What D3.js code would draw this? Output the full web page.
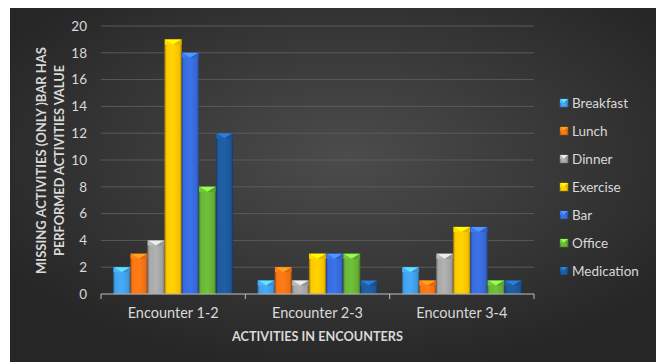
<!DOCTYPE html>
<html><head><meta charset="utf-8">
<script src="https://cdn.jsdelivr.net/npm/d3@7"></script>
<style>html,body{margin:0;padding:0;background:#fff;}svg{display:block;}</style>
</head><body>
<script>
const categories = ["Encounter 1-2", "Encounter 2-3", "Encounter 3-4"];
const seriesNames = ["Breakfast", "Lunch", "Dinner", "Exercise", "Bar", "Office", "Medication"];
const breakfast = [2, 1, 2];
const lunch = [3, 2, 1];
const dinner = [4, 1, 3];
const exercise = [19, 3, 5];
const bar = [18, 3, 5];
const office = [8, 3, 1];
const medication = [12, 1, 1];
const seriesValues = [breakfast, lunch, dinner, exercise, bar, office, medication];
const seriesColors = ["#3f9ae0", "#ee6f14", "#a0a0a0", "#f5bf00", "#3567d2", "#64ad34", "#1d5595"];
const yTicks = [0, 2, 4, 6, 8, 10, 12, 14, 16, 18, 20];
const yTitle1 = "MISSING ACTIVITIES (ONLY )BAR HAS";
const yTitle2 = "PERFORMED ACTIVITIES VALUE";
const xTitle = "ACTIVITIES IN ENCOUNTERS";

const W = 657, H = 362;
const font = "Lato, 'Open Sans', sans-serif";
const svg = d3.select("body").append("svg").attr("width", W).attr("height", H);
const defs = svg.append("defs");

const bg = defs.append("radialGradient").attr("id", "bg").attr("cx", "52%").attr("cy", "42%").attr("r", "62%");
bg.append("stop").attr("offset", "0%").attr("stop-color", "#4c4c4c");
bg.append("stop").attr("offset", "100%").attr("stop-color", "#262626");

svg.append("rect").attr("x", 10).attr("y", 8).attr("width", 646).attr("height", 354).attr("fill", "url(#bg)");

const m = {left: 101, right: 534, top: 26, bottom: 294};
const x0 = d3.scaleBand().domain(categories).range([m.left, m.right]);
const x1 = d3.scaleBand().domain(seriesNames).range([x0.bandwidth() * 0.087, x0.bandwidth() * 0.913]).paddingInner(0.03);
const y = d3.scaleLinear().domain([0, 20]).range([m.bottom, m.top]);

seriesColors.forEach((c, i) => {
  const g = defs.append("linearGradient").attr("id", "g" + i).attr("x1", "0").attr("x2", "1").attr("y1", "0").attr("y2", "0");
  const base = d3.color(c);
  g.append("stop").attr("offset", "0%").attr("stop-color", base.darker(0.6));
  g.append("stop").attr("offset", "12%").attr("stop-color", base.brighter(0.15));
  g.append("stop").attr("offset", "50%").attr("stop-color", base.brighter(0.3));
  g.append("stop").attr("offset", "88%").attr("stop-color", base);
  g.append("stop").attr("offset", "100%").attr("stop-color", base.darker(0.8));
});

svg.append("g").selectAll("line").data(yTicks.filter(d => d > 0)).join("line")
  .attr("x1", m.left).attr("x2", m.right).attr("y1", d => y(d)).attr("y2", d => y(d))
  .attr("stroke", "#5a5a5a").attr("stroke-width", 1);

const yAxis = d3.axisLeft(y).tickValues(yTicks).tickSize(0).tickPadding(14);
const ya = svg.append("g").attr("transform", `translate(${m.left},0)`).call(yAxis);
ya.select(".domain").remove();
ya.selectAll("text").attr("fill", "#d9d9d9").attr("font-size", 13.5).attr("font-family", font);

function drawBar(g, bx, by, bw, bh, i) {
  const c = d3.color(seriesColors[i]);
  g.append("rect").attr("x", bx).attr("y", by).attr("width", bw).attr("height", bh)
    .attr("fill", `url(#g${i})`).attr("stroke", c.darker(1)).attr("stroke-width", 0.6);
  const bev = Math.min(5, bh / 2);
  g.append("path").attr("d", `M${bx},${by}L${bx + bw},${by}L${bx + bw / 2},${by + bev}Z`)
    .attr("fill", c.brighter(1.1));
  g.append("path").attr("d", `M${bx},${by}L${bx + bw / 2},${by + bev}L${bx},${by + bev}Z`)
    .attr("fill", c.brighter(0.4));
  g.append("path").attr("d", `M${bx + bw},${by}L${bx + bw / 2},${by + bev}L${bx + bw},${by + bev}Z`)
    .attr("fill", c.darker(0.2));
}
const barsG = svg.append("g");
categories.forEach((cat, ci) => {
  seriesNames.forEach((s, si) => {
    const v = seriesValues[si][ci];
    const bx = x0(cat) + x1(s);
    drawBar(barsG, bx, y(v), x1.bandwidth(), y(0) - y(v), si);
  });
});

const xa = svg.append("g").attr("transform", `translate(0,${m.bottom})`);
xa.append("line").attr("x1", m.left).attr("x2", m.right).attr("y1", 0).attr("y2", 0).attr("stroke", "#bfbfbf").attr("stroke-width", 1);
const tickXs = categories.map(c => x0(c)).concat([m.right]);
xa.selectAll("line.t").data(tickXs).join("line").attr("class", "t")
  .attr("x1", d => d).attr("x2", d => d).attr("y1", 0).attr("y2", 5).attr("stroke", "#bfbfbf");
xa.selectAll("text").data(categories).join("text")
  .attr("x", d => x0(d) + x0.bandwidth() / 2).attr("y", 23.5).attr("text-anchor", "middle")
  .attr("fill", "#d9d9d9").attr("font-size", 14.5).attr("font-family", font).text(d => d);

svg.append("text").attr("x", (m.left + m.right) / 2).attr("y", 341).attr("text-anchor", "middle")
  .attr("fill", "#d9d9d9").attr("font-size", 13).attr("font-weight", "bold").attr("font-family", font)
  .attr("textLength", 171).attr("lengthAdjust", "spacingAndGlyphs").text(xTitle);
svg.append("text").attr("transform", "translate(46,160.5) rotate(-90)").attr("text-anchor", "middle")
  .attr("fill", "#d9d9d9").attr("font-size", 13).attr("font-weight", "bold").attr("font-family", font)
  .attr("textLength", 227).attr("lengthAdjust", "spacingAndGlyphs").text(yTitle1);
svg.append("text").attr("transform", "translate(64,160.5) rotate(-90)").attr("text-anchor", "middle")
  .attr("fill", "#d9d9d9").attr("font-size", 13).attr("font-weight", "bold").attr("font-family", font)
  .attr("textLength", 191).attr("lengthAdjust", "spacingAndGlyphs").text(yTitle2);

const leg = svg.append("g");
seriesNames.forEach((s, i) => {
  const ly = 103 + i * 28;
  drawBar(leg, 560, ly - 4, 8, 8, i);
  leg.append("text").attr("x", 572).attr("y", ly + 4.5).attr("fill", "#d9d9d9")
    .attr("font-size", 13.5).attr("font-family", font).text(s);
});
</script>
</body></html>
